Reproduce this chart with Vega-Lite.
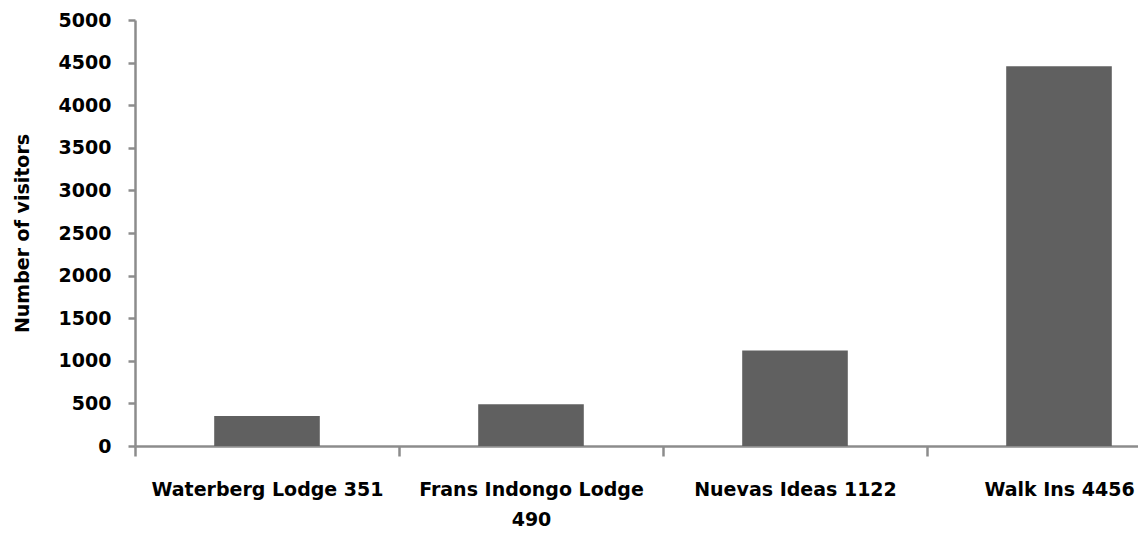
{
  "$schema": "https://vega.github.io/schema/vega-lite/v6.json",
  "autosize": {"type": "none"},
  "width": 1003,
  "height": 426,
  "padding": {"left": 135, "top": 20, "right": 0, "bottom": 87},
  "background": "white",
  "data": {
    "values": [
      {"place": "Waterberg Lodge 351", "visitors": 351},
      {"place": "Frans Indongo Lodge 490", "visitors": 490},
      {"place": "Nuevas Ideas 1122", "visitors": 1122},
      {"place": "Walk Ins 4456", "visitors": 4456}
    ]
  },
  "config": {
    "view": {"stroke": null},
    "axis": {
      "labelFont": "DejaVu Sans",
      "labelFontWeight": "bold",
      "labelColor": "black",
      "titleFont": "DejaVu Sans",
      "titleFontWeight": "bold",
      "titleColor": "black",
      "domainColor": "#8c8c8c",
      "tickColor": "#8c8c8c",
      "domainWidth": 2.5,
      "tickWidth": 2.5
    }
  },
  "mark": {"type": "bar", "color": "#606060", "width": {"band": 0.4}},
  "encoding": {
    "x": {
      "field": "place",
      "type": "nominal",
      "sort": null,
      "scale": {"range": [0, 1056], "paddingInner": 0, "paddingOuter": 0},
      "axis": {
        "title": null,
        "labelAngle": 0,
        "labelFontSize": 19,
        "labelPadding": 24,
        "labelLimit": 0,
        "tickBand": "extent",
        "tickSize": 10,
        "labelLineHeight": 30,
        "labelBaseline": "top",
        "labelExpr": "datum.label == 'Frans Indongo Lodge 490' ? ['Frans Indongo Lodge', '490'] : datum.label"
      }
    },
    "y": {
      "field": "visitors",
      "type": "quantitative",
      "scale": {"domain": [0, 5000]},
      "axis": {
        "title": "Number of visitors",
        "titleFontSize": 19,
        "titlePadding": 26,
        "format": "d",
        "values": [0, 500, 1000, 1500, 2000, 2500, 3000, 3500, 4000, 4500, 5000],
        "labelFontSize": 19,
        "labelPadding": 17,
        "tickSize": 7,
        "grid": false
      }
    }
  }
}
